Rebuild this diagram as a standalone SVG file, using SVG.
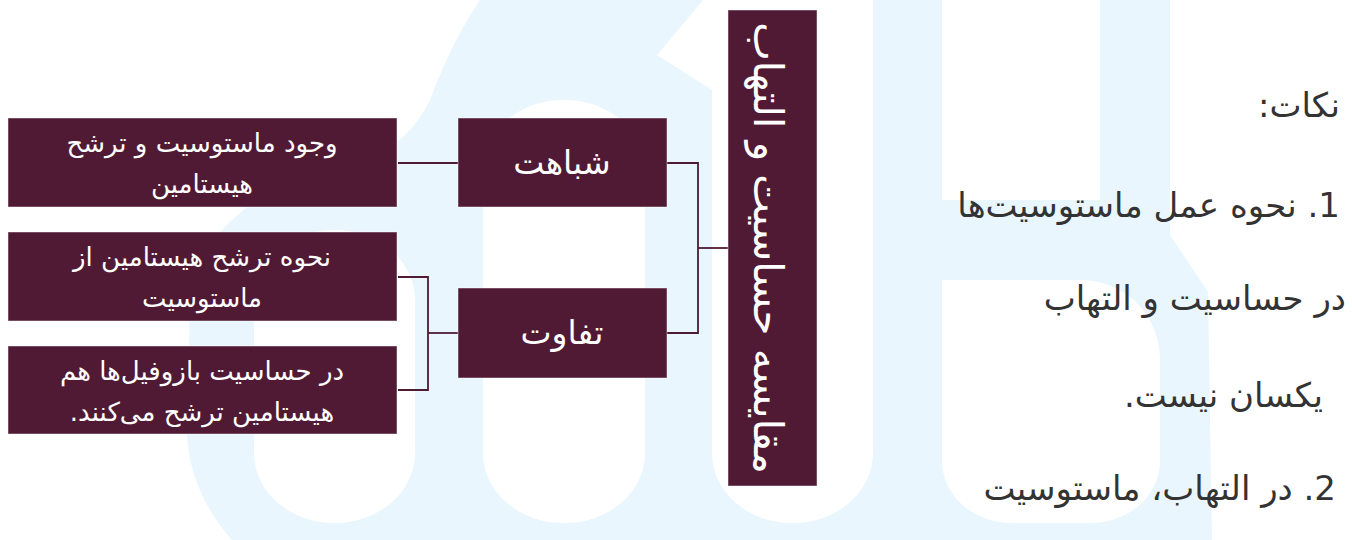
<svg xmlns="http://www.w3.org/2000/svg" width="1352" height="540" viewBox="0 0 1352 540">
<style>
.box{fill:#501a35;stroke:#ffffff;stroke-opacity:0.45;stroke-width:1}
.bt{fill:#ffffff;font-family:"DejaVu Sans",sans-serif;font-size:26px;text-anchor:middle}
.mt{fill:#ffffff;font-family:"DejaVu Sans",sans-serif;font-size:33px;text-anchor:middle}
.vt{fill:#ffffff;font-family:"DejaVu Sans",sans-serif;font-size:41px;text-anchor:middle}
.note{fill:#333333;font-family:"DejaVu Sans",sans-serif;font-size:34px;text-anchor:start}
.conn{fill:none;stroke:#501a35;stroke-width:1.8}
.wm{fill:#e9f6fe}
.wh{fill:#ffffff}
</style>
<rect width="1352" height="540" fill="#ffffff"/>
<g id="watermark">
<path class="wm" d="M232,540 C205,510 187,470 187,430 L190,300 C195,240 250,190 330,170 C380,160 410,140 430,100 C445,60 460,30 480,0 L1170,0 L1170,235 L1208,292 L1212,540 Z"/>
<polygon class="wh" points="703,0 740,0 740,90 712,90 657,55"/>
<rect class="wh" x="712" y="-100" width="161" height="623" rx="80" ry="70"/>
<rect class="wh" x="942" y="0" width="158" height="200"/>
<rect class="wh" x="254" y="230" width="161" height="293" rx="80" ry="70"/>
<rect class="wh" x="483" y="100" width="162" height="423" rx="80" ry="70"/>
<path class="wh" d="M942,280 L1080,280 C1125,280 1160,315 1160,360 L1160,460 C1160,495 1130,523 1090,523 L1012,523 C972,523 942,495 942,460 Z"/>
</g>
<g id="connectors">
<line class="conn" x1="398" y1="163" x2="458" y2="163"/>
<polyline class="conn" points="398,277 428,277 428,390 398,390"/>
<line class="conn" x1="428" y1="333" x2="458" y2="333"/>
<polyline class="conn" points="667,163 698,163 698,333 667,333"/>
<line class="conn" x1="698" y1="248" x2="728" y2="248"/>
</g>
<g id="node-root">
<rect class="box" x="728" y="10" width="89" height="476"/>
<text class="vt" direction="rtl" transform="translate(768,248) rotate(90)" dominant-baseline="central">مقایسه حساسیت و التهاب</text>
</g>
<g id="node-similarity">
<rect class="box" x="458" y="118" width="209" height="89"/>
<text class="mt" direction="rtl" x="562" y="174">شباهت</text>
</g>
<g id="node-difference">
<rect class="box" x="458" y="288" width="209" height="90"/>
<text class="mt" direction="rtl" x="562" y="344">تفاوت</text>
</g>
<g id="node-s1">
<rect class="box" x="8" y="118" width="389" height="89"/>
<text class="bt" direction="rtl" x="202" y="152">وجود ماستوسیت و ترشح</text>
<text class="bt" direction="rtl" x="202" y="193">هیستامین</text>
</g>
<g id="node-d1">
<rect class="box" x="8" y="232" width="389" height="89"/>
<text class="bt" direction="rtl" x="202" y="266">نحوه ترشح هیستامین از</text>
<text class="bt" direction="rtl" x="202" y="307">ماستوسیت</text>
</g>
<g id="node-d2">
<rect class="box" x="8" y="346" width="389" height="88"/>
<text class="bt" direction="rtl" x="202" y="380">در حساسیت بازوفیل‌ها هم</text>
<text class="bt" direction="rtl" x="202" y="421">هیستامین ترشح می‌کنند.</text>
</g>
<g id="notes">
<text class="note" direction="rtl" x="1340" y="117">نکات:</text>
<text class="note" direction="rtl" x="1340" y="217">1. نحوه عمل ماستوسیت‌ها</text>
<text class="note" direction="rtl" x="1346" y="310">در حساسیت و التهاب</text>
<text class="note" direction="rtl" x="1323" y="407">یکسان نیست.</text>
<text class="note" direction="rtl" x="1336" y="500">2. در التهاب، ماستوسیت</text>
</g>
</svg>
